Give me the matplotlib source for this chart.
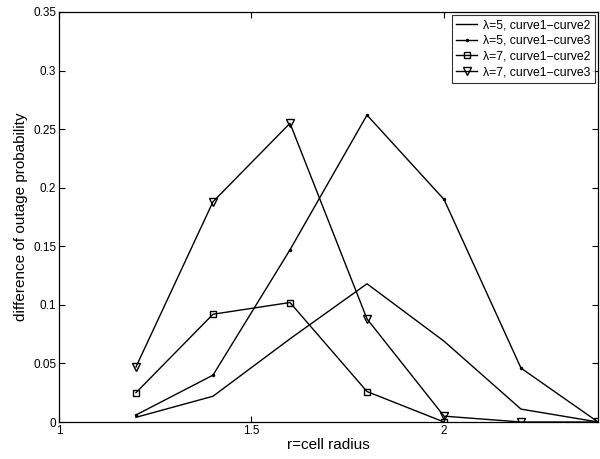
import matplotlib
matplotlib.use("Agg")
import matplotlib.pyplot as plt

# Rayon de la cellule
r = [1.2, 1.4, 1.6, 1.8, 2.0, 2.2, 2.4]
r_sq = [1.2, 1.4, 1.6, 1.8, 2.0]

# Différences de probabilité de coupure
lam5_c12 = [0.004, 0.022, 0.071, 0.118, 0.069, 0.011, 0.0]
lam5_c13 = [0.006, 0.040, 0.147, 0.262, 0.190, 0.046, 0.0]
lam7_c12 = [0.025, 0.092, 0.102, 0.026, 0.0]
lam7_c13 = [0.047, 0.188, 0.255, 0.088, 0.005, 0.0, 0.0]

yticks = [0, 0.05, 0.1, 0.15, 0.2, 0.25, 0.3, 0.35]
xticks = [1, 1.5, 2]

plt.rcParams["font.family"] = ["Liberation Sans", "DejaVu Sans"]

fig = plt.figure(figsize=(6, 4.59), dpi=100)
ax = fig.add_axes([0.0983, 0.0806, 0.8984, 0.8933])

ax.plot(r, lam5_c12, color="black", linewidth=1.0,
        label="λ=5, curve1−curve2")
ax.plot(r, lam5_c13, color="black", linewidth=1.0, marker=".",
        markersize=3, label="λ=5, curve1−curve3")
ax.plot(r_sq, lam7_c12, color="black", linewidth=1.0, marker="s",
        markersize=5, markerfacecolor="none", label="λ=7, curve1−curve2")
ax.plot(r, lam7_c13, color="black", linewidth=1.0, marker="v",
        markersize=6, markerfacecolor="none", label="λ=7, curve1−curve3")

ax.set_xlim(1, 2.4)
ax.set_ylim(0, 0.35)
ax.set_xticks(xticks)
ax.set_xticklabels(["1", "1.5", "2"])
ax.set_yticks(yticks)
ax.set_yticklabels(["0", "0.05", "0.1", "0.15", "0.2", "0.25", "0.3", "0.35"])
ax.tick_params(direction="in", top=True, right=True, labelsize=8.5,
               length=4, width=0.8, pad=2)

ax.set_xlabel("r=cell radius", fontsize=11, labelpad=1)
ax.set_ylabel("difference of outage probability", fontsize=11, labelpad=4)

for s in ax.spines.values():
    s.set_linewidth(0.9)

leg = ax.legend(loc="upper right", fontsize=8.8, handlelength=1.7,
                handletextpad=0.5, borderpad=0.35, labelspacing=0.3,
                fancybox=False, edgecolor="black", borderaxespad=0.25)
leg.get_frame().set_linewidth(0.8)

fig.savefig("out.png", dpi=100)
